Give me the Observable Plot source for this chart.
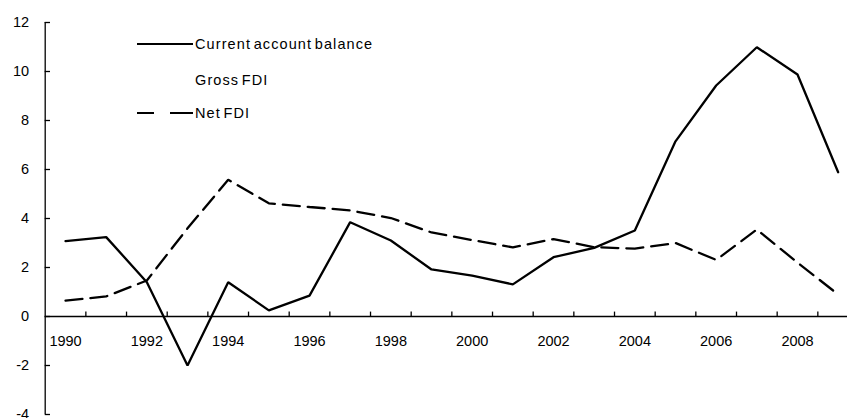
<!DOCTYPE html>
<html><head><meta charset="utf-8">
<script src="https://cdn.jsdelivr.net/npm/d3@7"></script>
<script src="https://cdn.jsdelivr.net/npm/@observablehq/plot@0.6"></script>
<style>
body{margin:0;background:#fff;}
#wrap{position:relative;width:847px;height:418px;overflow:hidden;font-family:"Liberation Sans",Arial,sans-serif;}
.leg{position:absolute;font-size:14.5px;letter-spacing:1.1px;word-spacing:-2.5px;color:#000;white-space:nowrap;line-height:16px;}
.sw{position:absolute;height:0;border-top:2.2px solid #000;}
</style></head>
<body><div id="wrap"></div>
<script>
const years = [1990,1991,1992,1993,1994,1995,1996,1997,1998,1999,2000,2001,2002,2003,2004,2005,2006,2007,2008,2009];
const currentAccount = [3.08,3.24,1.4,-2.0,1.4,0.25,0.85,3.85,3.1,1.92,1.67,1.31,2.42,2.8,3.51,7.15,9.43,10.99,9.88,5.89];
const netFDI = [0.65,0.82,1.47,3.6,5.58,4.62,4.47,4.33,4.02,3.43,3.12,2.82,3.16,2.83,2.77,3.0,2.31,3.55,2.2,0.9];
const yTicks = [-4,-2,0,2,4,6,8,10,12];
const xLabels = [1990,1992,1994,1996,1998,2000,2002,2004,2006,2008];
const legendItems = ["Current account balance","Gross FDI","Net FDI"];

const ca = years.map((y,i)=>({year:y, value:currentAccount[i]}));
const nf = years.map((y,i)=>({year:y, value:netFDI[i]}));
const bounds = years.map(y=>y+0.5);
const x0 = years[0]-0.5;

const chart = Plot.plot({
  width:847, height:418,
  marginLeft:45, marginRight:0, marginTop:22, marginBottom:4,
  style:{fontFamily:"'Liberation Sans',Arial,sans-serif", fontSize:"14.5px", color:"#000", background:"#fff", overflow:"visible"},
  x:{type:"linear", domain:[x0, years[years.length-1]+0.5], range:[44.7,858], axis:null},
  y:{domain:[-4,12], range:[414,22], axis:null},
  marks:[
    Plot.ruleX([x0],{y1:-4,y2:12,stroke:"#000",strokeWidth:1.3}),
    Plot.ruleY(yTicks,{y:d=>d,x1:x0,x2:x0+0.13,stroke:"#000",strokeWidth:1.3}),
    Plot.text(yTicks,{x:x0,y:d=>d,text:d=>String(d),textAnchor:"end",dx:-16,fontSize:14.5,letterSpacing:"0.9px"}),
    Plot.ruleY([0],{x1:x0,x2:years[years.length-1]+0.5,stroke:"#000",strokeWidth:1.3}),
    Plot.ruleX(bounds,{x:d=>d,y1:0,y2:0.18,stroke:"#000",strokeWidth:1.3}),
    Plot.text(xLabels,{x:d=>d,y:0,text:d=>String(d),dy:25,fontSize:14.5,letterSpacing:"0.9px"}),
    Plot.line(nf,{x:"year",y:"value",stroke:"#000",strokeWidth:2.3,strokeDasharray:"17,8",strokeLinejoin:"miter"}),
    Plot.line(ca,{x:"year",y:"value",stroke:"#000",strokeWidth:2.3,strokeLinejoin:"miter"})
  ]
});
const wrap = document.getElementById("wrap");
wrap.appendChild(chart);
// legend overlay
const legTops = [36,72,105];
const sw1 = document.createElement("div"); sw1.className="sw"; sw1.style.cssText=`left:137px;width:56px;top:${legTops[0]+7}px`; wrap.appendChild(sw1);
const sw3a = document.createElement("div"); sw3a.className="sw"; sw3a.style.cssText=`left:137px;width:17px;top:${legTops[2]+7}px`; wrap.appendChild(sw3a);
const sw3b = document.createElement("div"); sw3b.className="sw"; sw3b.style.cssText=`left:170px;width:23px;top:${legTops[2]+7}px`; wrap.appendChild(sw3b);
legendItems.forEach((t,i)=>{
  const d=document.createElement("div"); d.className="leg"; d.textContent=t;
  d.style.left="195px"; d.style.top=legTops[i]+"px"; wrap.appendChild(d);
});
</script></body></html>
